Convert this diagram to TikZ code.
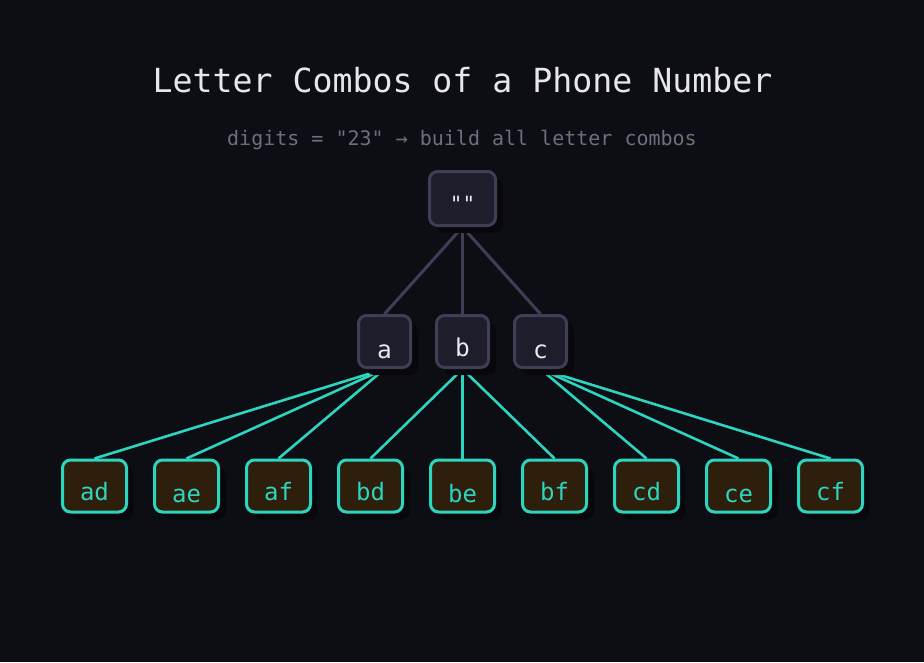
\documentclass[tikz,border=0pt]{standalone}
\usepackage{fontspec}
\setmainfont{DejaVu Sans Mono}[Ligatures=TeXOff]
\usetikzlibrary{shadows}
\pgfdeclarelayer{back}
\pgfdeclarelayer{bg}
\pgfsetlayers{back,bg,main}
\definecolor{bgc}{HTML}{0D0E13}
\definecolor{shadowc}{HTML}{08080C}
\definecolor{darkfill}{HTML}{1E1D2B}
\definecolor{darkline}{HTML}{403E56}
\definecolor{leaffill}{HTML}{2E1F0D}
\definecolor{teal}{HTML}{2DD4BF}
\definecolor{titlec}{HTML}{E6E6EC}
\definecolor{subc}{HTML}{6B7080}
\definecolor{nodetext}{HTML}{E8E8F0}
\tikzset{
  shadowed/.style={drop shadow={shadow xshift=7.5pt, shadow yshift=-7.5pt, fill=shadowc, opacity=1}},
  darkbox/.style={shadowed, draw=darkline, fill=darkfill, line width=3pt, rounded corners=8pt, inner sep=0pt,
    text=nodetext, font=\fontsize{24.5}{28}\selectfont},
  rootbox/.style={darkbox, minimum width=66pt, minimum height=54pt},
  midbox/.style={darkbox, minimum width=52pt, minimum height=52pt},
  leafbox/.style={shadowed, draw=teal, fill=leaffill, line width=3pt, rounded corners=8pt, inner sep=0pt,
    minimum width=64pt, minimum height=52pt, text=teal, font=\fontsize{24}{28}\selectfont},
  grayedge/.style={draw=darkline, line width=3pt},
  tealedge/.style={draw=teal, line width=2.6pt},
}
\newcommand{\lowtext}[2]{\raisebox{-#1pt}[0pt][0pt]{#2}}
\begin{document}
\begin{tikzpicture}[x=1pt,y=-1pt]
\begin{pgfonlayer}{back}
\fill[bgc] (0,0) rectangle (924,662);
\end{pgfonlayer}
\useasboundingbox (0,0) rectangle (924,662);
\node[anchor=base, text=titlec, font=\fontsize{33.2}{40}\selectfont] (title) at (462.5,92) {Letter Combos of a Phone Number};
\node[anchor=base, text=subc, font=\fontsize{20}{24}\selectfont] (sub) at (462,145) {digits = "23" → build all letter combos};
% root
\node[rootbox, font=\fontsize{21}{24}\selectfont] (root) at (462.5,198.5) {\lowtext{13}{""}};
% middle
\node[midbox] (a) at (384.5,341.5) {\lowtext{17}{a}};
\node[midbox] (b) at (462.5,341.5) {\lowtext{14.5}{b}};
\node[midbox] (c) at (540.5,341.5) {\lowtext{17}{c}};
% leaves
\node[leafbox] (ad) at (94.5,486) {\lowtext{14}{ad}};
\node[leafbox] (ae) at (186.5,486) {\lowtext{16}{ae}};
\node[leafbox] (af) at (278.5,486) {\lowtext{14}{af}};
\node[leafbox] (bd) at (370.5,486) {\lowtext{14}{bd}};
\node[leafbox] (be) at (462.5,486) {\lowtext{16}{be}};
\node[leafbox] (bf) at (554.5,486) {\lowtext{14}{bf}};
\node[leafbox] (cd) at (646.5,486) {\lowtext{14}{cd}};
\node[leafbox] (ce) at (738.5,486) {\lowtext{16}{ce}};
\node[leafbox] (cf) at (830.5,486) {\lowtext{14}{cf}};
\begin{pgfonlayer}{bg}
\foreach \m in {a,b,c}{\draw[grayedge] (root.south) -- (\m.north);}
\foreach \p in {a,b,c}{
  \foreach \q in {d,e,f}{\draw[tealedge] (\p.south) -- (\p\q.north);}
}
\end{pgfonlayer}
\end{tikzpicture}
\end{document}
